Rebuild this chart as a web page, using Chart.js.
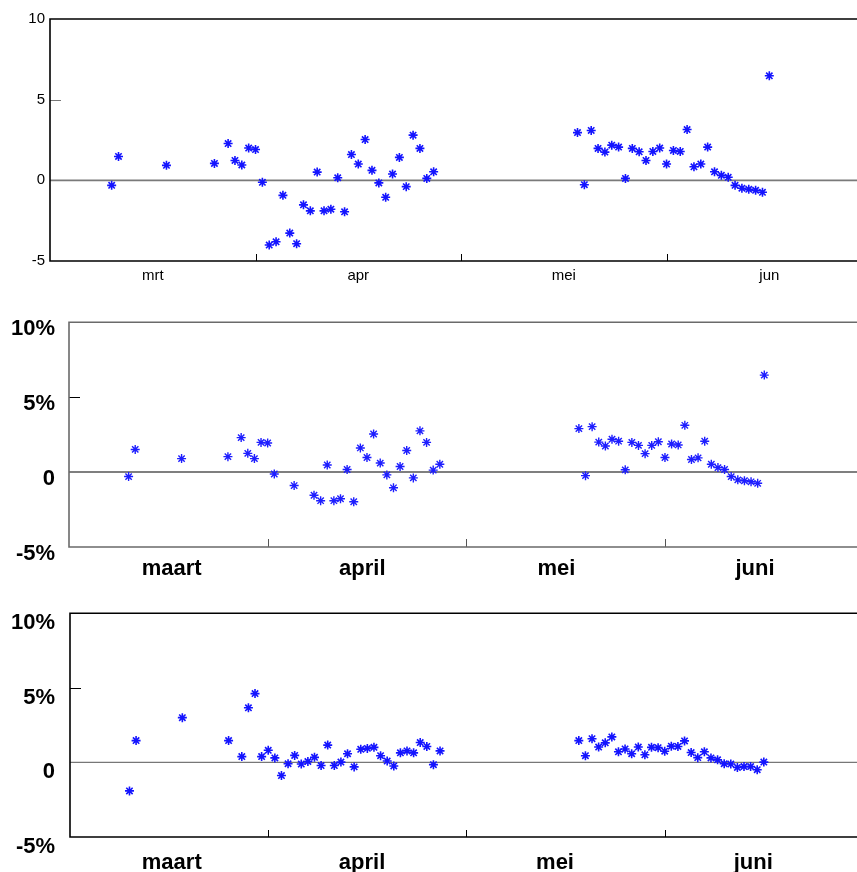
<!DOCTYPE html>
<html>
<head>
<meta charset="utf-8">
<script src="https://cdn.jsdelivr.net/npm/chart.js@4/dist/chart.umd.min.js"></script>
<style>
  html, body { margin: 0; padding: 0; background: #fff; }
  body { width: 857px; height: 872px; position: relative; overflow: hidden; }
  canvas { position: absolute; left: 0; }
</style>
</head>
<body>
<canvas id="c1" width="857" height="290" style="top:0px"></canvas>
<canvas id="c2" width="857" height="290" style="top:295px"></canvas>
<canvas id="c3" width="857" height="287" style="top:585px"></canvas>
<script>
// day number counted from the left edge of the time axis (each month ~30 days)
const days = [9, 10, 17, 24,
  26, 27, 28, 29, 30, 31, 32, 33, 34, 35, 36, 37, 38, 39, 40, 41,
  42, 43, 44, 45, 46, 47, 48, 49, 50, 51, 52, 53, 54, 55, 56,
  77, 78, 79, 80, 81, 82, 83, 84, 85, 86, 87, 88, 89, 90, 91,
  92, 93, 94, 95, 96, 97, 98, 99, 100, 101, 102, 103, 104, 105];

// panel 1 (absolute values)
const values1 = [-0.31, 1.48, 0.93, 1.05,
  2.28, 1.23, 0.95, 2.00, 1.91, -0.12, -4.01, -3.81, -0.93, -3.27, -3.93, -1.52, -1.89, 0.51, -1.89, -1.79,
  0.16, -1.95, 1.60, 1.01, 2.53, 0.62, -0.16, -1.05, 0.39, 1.42, -0.39, 2.80, 1.98, 0.12, 0.53,
  2.96, -0.27, 3.09, 1.98, 1.75, 2.18, 2.06, 0.12, 1.98, 1.77, 1.23, 1.79, 2.00, 1.01, 1.85,
  1.79, 3.15, 0.84, 1.01, 2.06, 0.53, 0.31, 0.19, -0.31, -0.49, -0.56, -0.62, -0.74, 6.48];

// panel 2 (percent, the four deepest points removed)
const values2 = [-0.30, 1.51, 0.90, 1.03,
  2.30, 1.25, 0.90, 1.98, 1.94, -0.13, null, null, -0.90, null, null, -1.55, -1.91, 0.47, -1.91, -1.78,
  0.17, -1.98, 1.61, 0.97, 2.54, 0.60, -0.19, -1.05, 0.37, 1.44, -0.39, 2.75, 1.98, 0.13, 0.52,
  2.90, -0.24, 3.03, 2.00, 1.74, 2.19, 2.06, 0.15, 1.98, 1.78, 1.23, 1.78, 2.02, 0.97, 1.87,
  1.81, 3.12, 0.84, 0.95, 2.06, 0.52, 0.30, 0.17, -0.30, -0.52, -0.58, -0.65, -0.75, 6.47];

// panel 3 (percent)
const values3 = [-1.91, 1.46, 3.00, 1.46,
  0.39, 3.66, 4.61, 0.39, 0.81, 0.30, -0.88, -0.09, 0.47, -0.11, 0.06, 0.34, -0.21, 1.16, -0.21, 0.02,
  0.58, -0.30, 0.88, 0.94, 1.01, 0.45, 0.09, -0.24, 0.64, 0.77, 0.64, 1.33, 1.07, -0.15, 0.77,
  1.46, 0.45, 1.59, 1.03, 1.31, 1.71, 0.71, 0.90, 0.58, 1.03, 0.51, 1.01, 0.99, 0.75, 1.09,
  1.07, 1.44, 0.66, 0.32, 0.71, 0.30, 0.17, -0.09, -0.11, -0.34, -0.28, -0.28, -0.49, 0.02];

const monthsShort = ['mrt', 'apr', 'mei', 'jun'];
const monthsLong = ['maart', 'april', 'mei', 'juni'];
const labelPos1 = [15, 45, 75, 105];
const labelPos2 = [15.5, 44.3, 73.6, 103.6];
const labelPos3 = [15.4, 44.2, 73.4, 103.4];
const monthBounds = [30, 60, 90];
const yTickValues = [-5, 0, 5, 10];

const FONT = '"Liberation Sans", Arial, Helvetica, sans-serif';

const framePlugin = {
  id: 'frame',
  beforeDatasetsDraw(chart, args, o) {
    const ctx = chart.ctx;
    const a = chart.chartArea;
    const xs = chart.scales.x, ys = chart.scales.y;
    const W = chart.width;
    ctx.save();
    ctx.lineCap = 'butt';
    // zero line
    const y0 = ys.getPixelForValue(0);
    ctx.strokeStyle = o.zeroColor; ctx.lineWidth = o.zeroWidth;
    ctx.beginPath(); ctx.moveTo(a.left, y0); ctx.lineTo(W, y0); ctx.stroke();
    // inner y ticks
    ctx.strokeStyle = o.yTickColor; ctx.lineWidth = 1;
    o.yTicks.forEach(v => {
      const p = Math.round(ys.getPixelForValue(v)) + 0.5;
      ctx.beginPath(); ctx.moveTo(a.left, p); ctx.lineTo(a.left + o.yTickLen, p); ctx.stroke();
    });
    // inner x ticks
    ctx.strokeStyle = o.xTickColor; ctx.lineWidth = 1;
    o.xTicks.forEach(v => {
      const p = Math.round(xs.getPixelForValue(v)) + 0.5;
      ctx.beginPath(); ctx.moveTo(p, a.bottom); ctx.lineTo(p, a.bottom - o.xTickLen); ctx.stroke();
    });
    // frame: left, top, bottom
    ctx.strokeStyle = o.frameColor; ctx.lineWidth = o.frameWidth;
    ctx.beginPath();
    ctx.moveTo(W, a.top); ctx.lineTo(a.left, a.top); ctx.lineTo(a.left, a.bottom); ctx.lineTo(W, a.bottom);
    ctx.stroke();
    ctx.restore();
  }
};

function makeChart(id, values, cfg) {
  const data = days.map((d, i) => ({ x: d, y: values[i] }));
  return new Chart(document.getElementById(id), {
    type: 'scatter',
    data: {
      datasets: [{
        data: data,
        pointStyle: 'star',
        pointRadius: cfg.pointRadius,
        pointHoverRadius: cfg.pointRadius,
        borderColor: cfg.pointColor,
        backgroundColor: cfg.pointColor,
        pointBorderWidth: cfg.pointWidth,
        showLine: false
      }]
    },
    options: {
      responsive: false,
      animation: false,
      devicePixelRatio: 1,
      events: [],
      layout: { autoPadding: false, padding: { top: cfg.padTop, right: 0, bottom: 0, left: 0 } },
      plugins: {
        legend: { display: false },
        tooltip: { enabled: false },
        frame: cfg.frame
      },
      scales: {
        x: {
          type: 'linear',
          min: 0,
          max: cfg.xMax,
          grid: { display: false, drawTicks: false },
          border: { display: false },
          afterBuildTicks: s => { s.ticks = cfg.labelPos.map(v => ({ value: v })); },
          afterFit: s => { s.height = cfg.xHeight; },
          ticks: {
            autoSkip: false,
            maxRotation: 0,
            padding: cfg.xPad,
            color: '#000',
            font: { family: FONT, size: cfg.xFontSize, weight: cfg.fontWeight },
            callback: (v, i) => cfg.labels[i]
          }
        },
        y: {
          type: 'linear',
          min: -5,
          max: 10,
          grid: { display: false, drawTicks: false },
          border: { display: false },
          afterBuildTicks: s => { s.ticks = yTickValues.map(v => ({ value: v })); },
          afterFit: s => { s.width = cfg.yWidth; },
          ticks: {
            padding: cfg.yPad,
            labelOffset: cfg.yLabelOffset,
            color: '#000',
            font: { family: FONT, size: cfg.yFontSize, weight: cfg.fontWeight },
            callback: v => cfg.percent ? (v === 0 ? '0' : v + '%') : String(v)
          }
        }
      }
    },
    plugins: [framePlugin]
  });
}

makeChart('c1', values1, {
  padTop: 19, xHeight: 29, yWidth: 50, xMax: 117.8,
  labelPos: labelPos1, labels: monthsShort,
  xPad: 6, yPad: 5, yLabelOffset: 0,
  xFontSize: 15, yFontSize: 15, fontWeight: 'normal', percent: false,
  pointRadius: 4.5, pointWidth: 1.6, pointColor: 'rgb(20,20,255)',
  frame: { frameColor: '#000', frameWidth: 1.6, zeroColor: '#7a7a7a', zeroWidth: 1.8,
    yTicks: [5], yTickLen: 11, yTickColor: '#777', xTicks: monthBounds, xTickLen: 7, xTickColor: '#000' }
});

makeChart('c2', values2, {
  padTop: 20, xHeight: 38, yWidth: 69, xMax: 119.0,
  labelPos: labelPos2, labels: monthsLong,
  xPad: 9, yPad: 14, yLabelOffset: 7,
  xFontSize: 22, yFontSize: 22, fontWeight: 'bold', percent: true,
  pointRadius: 4.5, pointWidth: 1.4, pointColor: 'rgb(30,30,255)',
  frame: { frameColor: '#6a6a6a', frameWidth: 1.6, zeroColor: '#555', zeroWidth: 1.4,
    yTicks: [5], yTickLen: 11, yTickColor: '#000', xTicks: monthBounds, xTickLen: 8, xTickColor: '#555' }
});

makeChart('c3', values3, {
  padTop: 18, xHeight: 35, yWidth: 70, xMax: 119.1,
  labelPos: labelPos3, labels: monthsLong,
  xPad: 13, yPad: 15, yLabelOffset: 10,
  xFontSize: 22, yFontSize: 22, fontWeight: 'bold', percent: true,
  pointRadius: 4.5, pointWidth: 1.6, pointColor: 'rgb(20,20,255)',
  frame: { frameColor: '#000', frameWidth: 1.6, zeroColor: '#777', zeroWidth: 1.1,
    yTicks: [5], yTickLen: 11, yTickColor: '#000', xTicks: monthBounds, xTickLen: 7, xTickColor: '#000' }
});
</script>
</body>
</html>
